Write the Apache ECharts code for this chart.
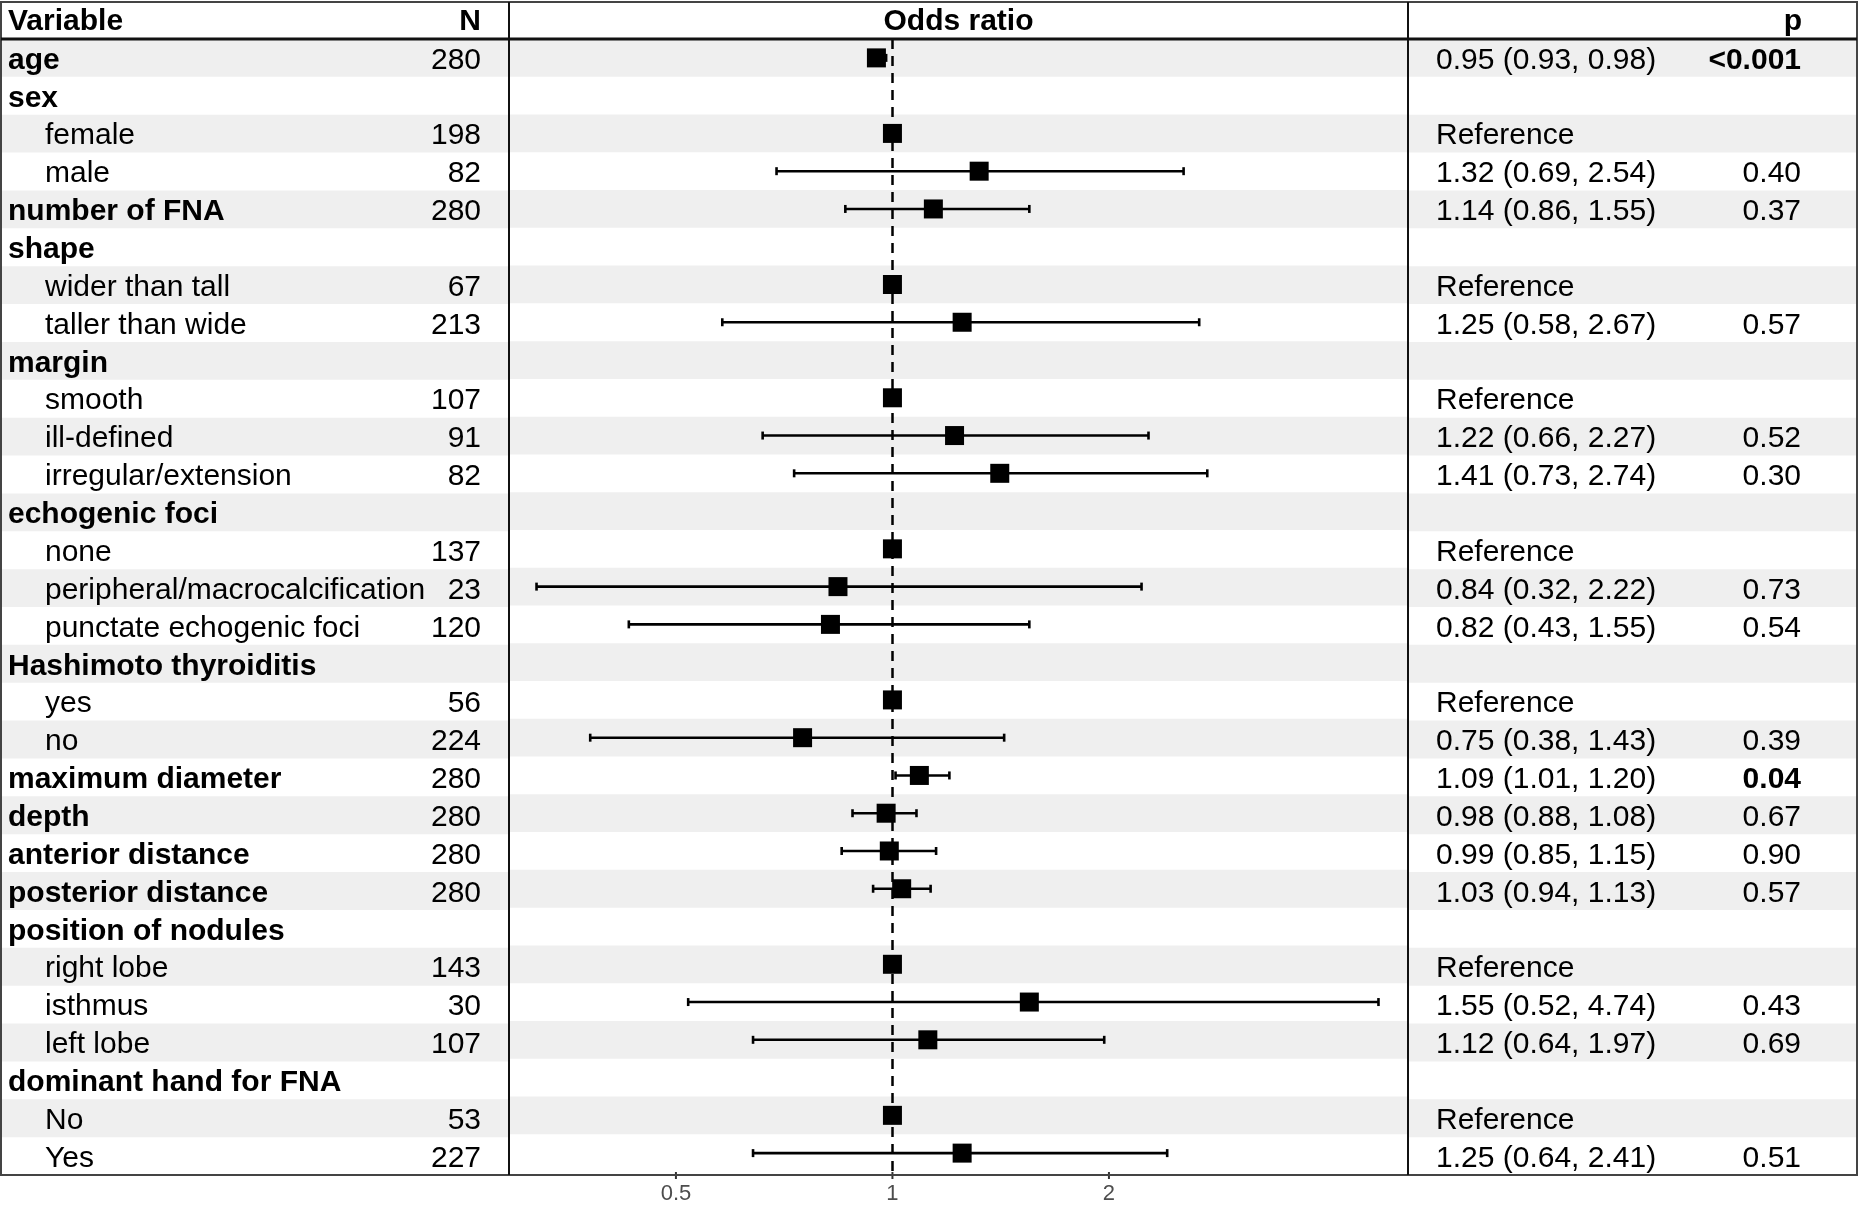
<!DOCTYPE html>
<html><head><meta charset="utf-8">
<script src="https://cdn.jsdelivr.net/npm/echarts@6/dist/echarts.min.js"></script>
<style>html,body{margin:0;padding:0;background:#fff}#c{width:1860px;height:1205px}</style>
</head><body><div id="c"></div>
<script>
// ---------- data ----------
const labels = ['age','sex','female','male','number of FNA','shape','wider than tall','taller than wide','margin','smooth','ill-defined','irregular/extension','echogenic foci','none','peripheral/macrocalcification','punctate echogenic foci','Hashimoto thyroiditis','yes','no','maximum diameter','depth','anterior distance','posterior distance','position of nodules','right lobe','isthmus','left lobe','dominant hand for FNA','No','Yes'];
const levels = [0,0,1,1,0,0,1,1,0,1,1,1,0,1,1,1,0,1,1,0,0,0,0,0,1,1,1,0,1,1];
const nValues = ['280','','198','82','280','','67','213','','107','91','82','','137','23','120','','56','224','280','280','280','280','','143','30','107','','53','227'];
const isReference = [0,0,1,0,0,0,1,0,0,1,0,0,0,1,0,0,0,1,0,0,0,0,0,0,1,0,0,0,1,0];
const orValues = [0.95,null,1,1.32,1.14,null,1,1.25,null,1,1.22,1.41,null,1,0.84,0.82,null,1,0.75,1.09,0.98,0.99,1.03,null,1,1.55,1.12,null,1,1.25];
const lowerValues = [0.93,null,null,0.69,0.86,null,null,0.58,null,null,0.66,0.73,null,null,0.32,0.43,null,null,0.38,1.01,0.88,0.85,0.94,null,null,0.52,0.64,null,null,0.64];
const upperValues = [0.98,null,null,2.54,1.55,null,null,2.67,null,null,2.27,2.74,null,null,2.22,1.55,null,null,1.43,1.20,1.08,1.15,1.13,null,null,4.74,1.97,null,null,2.41];
const pValues = ['<0.001','','','0.40','0.37','','','0.57','','','0.52','0.30','','','0.73','0.54','','','0.39','0.04','0.67','0.90','0.57','','','0.43','0.69','','','0.51'];
const xTicks = [0.5, 1, 2];
const xMin = 0.293, xMax = 5.21;
const headers = {variable: 'Variable', n: 'N', or: 'Odds ratio', p: 'p'};

// ---------- derived ----------
const f2 = v => v.toFixed(2);
const orText = orValues.map((v, i) => isReference[i] ? 'Reference' : (v == null ? '' : `${f2(v)} (${f2(lowerValues[i])}, ${f2(upperValues[i])})`));
const pBold = pValues.map(p => p !== '' && (p.startsWith('<') || parseFloat(p) < 0.05));
const rowIdx = labels.map((_, i) => i);
const bandRows = rowIdx.filter(i => i % 2 === 0);
const nRows = labels.length;

const FONT = '"Liberation Sans", Arial, Helvetica, sans-serif';
const TOP = 39, BOTTOM = 30;
const BAND = '#efefef';
const TEXT_DY = 2.5;

function txt(text, x, y, align, bold, size) {
  return {type: 'text', style: {text, x, y, fill: '#000', font: (bold ? 'bold ' : '') + (size || 30) + 'px ' + FONT,
    textAlign: align, textVerticalAlign: 'middle', align: align, verticalAlign: 'middle'}};
}
function bandSeries(gi) {
  return {
    type: 'custom', xAxisIndex: gi, yAxisIndex: gi, z: 0, silent: true,
    data: bandRows.map(i => [1, i]),
    encode: {x: 0, y: 1},
    renderItem: (params, api) => {
      const cs = params.coordSys;
      const yc = api.coord([1, api.value(1)])[1];
      const h = api.size([1, 1])[1];
      return {type: 'rect', shape: {x: cs.x, y: yc - h / 2, width: cs.width, height: h}, style: {fill: BAND}};
    }
  };
}
const gridLeft = 1, gridMidL = 509, gridMidR = 1408, gridRight = 1857;
const yAxisBase = gi => ({type: 'value', gridIndex: gi, min: -0.5, max: nRows - 0.5, inverse: true, show: false});

const option = {
  animation: false,
  backgroundColor: '#fff',
  grid: [
    {left: gridLeft, width: gridMidL - gridLeft, top: TOP, bottom: BOTTOM},
    {left: gridMidL, width: gridMidR - gridMidL, top: TOP, bottom: BOTTOM},
    {left: gridMidR, width: gridRight - gridMidR, top: TOP, bottom: BOTTOM}
  ],
  xAxis: [
    {type: 'value', gridIndex: 0, min: 0, max: 2, show: false},
    {type: 'log', logBase: 2, gridIndex: 1, min: xMin, max: xMax, position: 'bottom',
      axisLine: {show: false, onZero: false},
      axisTick: {show: false},
      axisLabel: {show: true, customValues: xTicks, fontSize: 22, color: '#4d4d4d', margin: 11, fontFamily: FONT,
        formatter: v => String(+(+v).toPrecision(3))},
      splitLine: {show: false}, minorTick: {show: false}},
    {type: 'value', gridIndex: 2, min: 0, max: 2, show: false}
  ],
  yAxis: [yAxisBase(0), yAxisBase(1), yAxisBase(2)],
  series: [
    bandSeries(0), bandSeries(1), bandSeries(2),
    {
      type: 'custom', xAxisIndex: 0, yAxisIndex: 0, z: 3, silent: true,
      data: rowIdx.map(i => [1, i]), encode: {x: 0, y: 1},
      renderItem: (params, api) => {
        const cs = params.coordSys;
        const i = api.value(1);
        const y = api.coord([1, i])[1] + TEXT_DY;
        const ch = [txt(labels[i], cs.x + (levels[i] ? 44 : 7), y, 'left', !levels[i])];
        if (nValues[i] !== '') ch.push(txt(nValues[i], cs.x + 480, y, 'right', false));
        return {type: 'group', children: ch};
      }
    },
    {
      type: 'custom', xAxisIndex: 2, yAxisIndex: 2, z: 3, silent: true,
      data: rowIdx.map(i => [1, i]), encode: {x: 0, y: 1},
      renderItem: (params, api) => {
        const cs = params.coordSys;
        const i = api.value(1);
        const y = api.coord([1, i])[1] + TEXT_DY;
        const ch = [];
        if (orText[i] !== '') ch.push(txt(orText[i], cs.x + 28, y, 'left', false));
        if (pValues[i] !== '') ch.push(txt(pValues[i], cs.x + 393, y, 'right', pBold[i]));
        return {type: 'group', children: ch};
      }
    },
    {
      name: 'ticks', type: 'custom', xAxisIndex: 1, yAxisIndex: 1, z: 6, silent: true, clip: false,
      data: xTicks.map(v => [v, nRows - 0.5]), encode: {x: 0, y: 1},
      renderItem: (params, api) => {
        const p = api.coord([api.value(0), api.value(1)]);
        return {type: 'line', shape: {x1: p[0], y1: p[1], x2: p[0], y2: p[1] + 7}, style: {stroke: '#333', lineWidth: 2}};
      }
    },
    {
      name: 'CI', type: 'custom', xAxisIndex: 1, yAxisIndex: 1, z: 3, silent: true,
      data: rowIdx.filter(i => lowerValues[i] != null).map(i => [lowerValues[i], upperValues[i], i]),
      encode: {x: [0, 1], y: 2},
      renderItem: (params, api) => {
        const a = api.coord([api.value(0), api.value(2)]);
        const b = api.coord([api.value(1), api.value(2)]);
        const st = {stroke: '#000', lineWidth: 2.6};
        return {type: 'group', children: [
          {type: 'line', shape: {x1: a[0], y1: a[1], x2: b[0], y2: b[1]}, style: st},
          {type: 'line', shape: {x1: a[0], y1: a[1] - 4, x2: a[0], y2: a[1] + 4}, style: st},
          {type: 'line', shape: {x1: b[0], y1: b[1] - 4, x2: b[0], y2: b[1] + 4}, style: st}
        ]};
      }
    },
    {
      name: 'OR', type: 'scatter', xAxisIndex: 1, yAxisIndex: 1, z: 5, silent: true,
      symbol: 'rect', symbolSize: 19, itemStyle: {color: '#000', opacity: 1},
      data: rowIdx.filter(i => orValues[i] != null).map(i => [orValues[i], i]),
      markLine: {silent: true, symbol: ['none', 'none'], label: {show: false}, z: 4,
        lineStyle: {type: [10, 7], width: 2.5, color: '#000'}, data: [{xAxis: 1}]}
    }
  ],
  graphic: [
    {type: 'rect', z: 100, silent: true, shape: {x: 1, y: 2, width: 1856, height: 1173}, style: {fill: 'none', stroke: '#444', lineWidth: 2}},
    {type: 'line', z: 100, silent: true, shape: {x1: 1, y1: 39, x2: 1857, y2: 39}, style: {stroke: '#111', lineWidth: 3}},
    {type: 'line', z: 100, silent: true, shape: {x1: 509, y1: 2, x2: 509, y2: 1175}, style: {stroke: '#111', lineWidth: 2}},
    {type: 'line', z: 100, silent: true, shape: {x1: 1408, y1: 2, x2: 1408, y2: 1175}, style: {stroke: '#111', lineWidth: 2}},
    Object.assign(txt(headers.variable, 8, 22, 'left', true), {z: 100}),
    Object.assign(txt(headers.n, 481, 22, 'right', true), {z: 100}),
    Object.assign(txt(headers.or, 958.5, 22, 'center', true), {z: 100}),
    Object.assign(txt(headers.p, 1802, 22, 'right', true), {z: 100})
  ]
};
const chart = echarts.init(document.getElementById('c'), null, {renderer: 'canvas'});
chart.setOption(option);
</script></body></html>
